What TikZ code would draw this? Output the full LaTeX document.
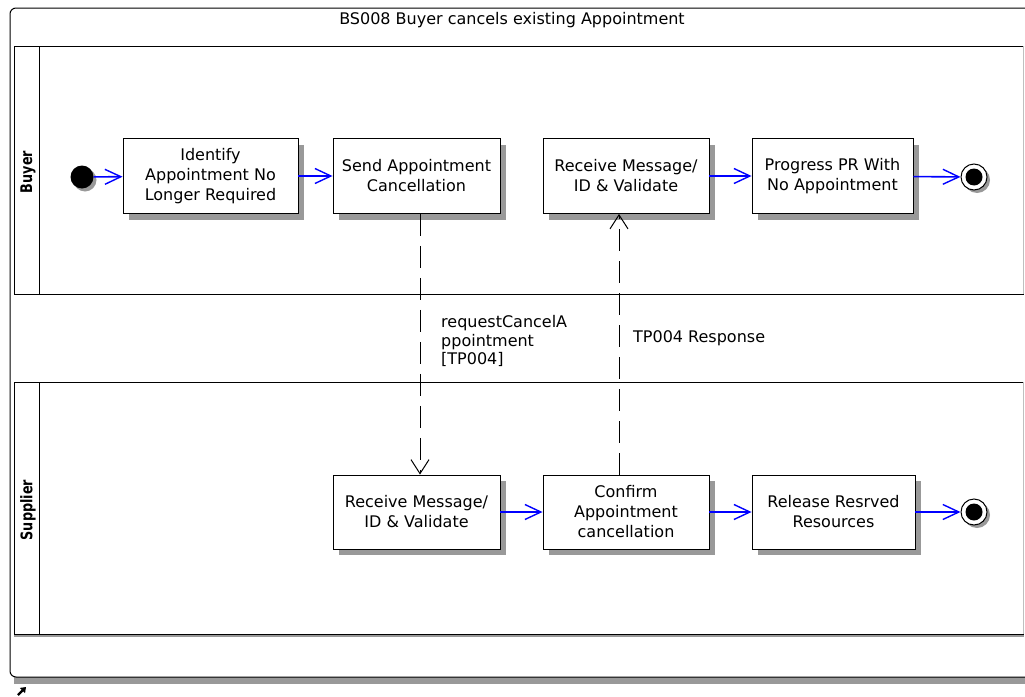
\documentclass[tikz,border=0pt]{standalone}
\usepackage{fontspec}
\setmainfont{DejaVu Sans}
\usetikzlibrary{arrows.meta,shadows}

\begin{document}
\begin{tikzpicture}[x=1pt,y=-1pt]
      \tikzstyle{activity}=[draw,fill=white,line width=0.9pt,minimum height=75pt,inner sep=2pt,align=center,
        font=\fontsize{16}{20}\selectfont,
        drop shadow={shadow xshift=6pt,shadow yshift=-6pt,fill=black!40,opacity=1}]
      \tikzstyle{initial}=[circle,fill=black,minimum size=23pt,inner sep=0pt,
        drop shadow={shadow xshift=3pt,shadow yshift=-3pt,fill=black!40,opacity=1}]
      \tikzstyle{final}=[circle,draw,fill=white,line width=1pt,minimum size=26pt,inner sep=0pt,
        drop shadow={shadow xshift=3pt,shadow yshift=-3pt,fill=black!40,opacity=1}]
      \tikzstyle{flow}=[draw=blue,line width=1.6pt,-{Straight Barb[length=16pt,width=15pt,line width=1.4pt]}]
      \tikzstyle{message}=[black,line width=1pt,dash pattern=on 22pt off 10pt,
        -{Straight Barb[length=14pt,width=18pt,line width=1pt]}]
      \tikzstyle{lanelabel}=[rotate=90,font=\fontsize{16}{18}\bfseries\selectfont]
      \tikzstyle{textfont}=[font=\fontsize{16}{18.5}\selectfont,inner sep=0pt]

      \useasboundingbox (0,0) rectangle (1025,696);
      \clip (0,0) rectangle (1025,696);

      % frame
      \fill[black!40] (14,677) rectangle (1030,684);
      \draw[line width=1pt,rounded corners=6pt] (1040,8) -- (10,8) -- (10,677) -- (1040,677);
      \node[textfont,anchor=base] (title) at (512,24) {BS008 Buyer cancels existing Appointment};
      \draw[line width=2.4pt,-{Triangle[length=5pt,width=7pt]}] (18,695) -- (26,687);

      % lanes
      \draw[line width=1pt] (1024,46) -- (14,46) -- (14,294) -- (1024,294);
      \draw[line width=1pt] (39,46) -- (39,294);
      \draw[black!25] (1023.5,46) -- (1023.5,294);
      \fill[black!40] (14,635) rectangle (1024,637);
      \draw[line width=1pt] (1024,382) -- (14,382) -- (14,634) -- (1024,634);
      \draw[line width=1pt] (39,382) -- (39,634);
      \draw[black!25] (1023.5,382) -- (1023.5,634);
      \node[lanelabel] (buyer) at (28,172) {\scalebox{0.8}[1]{Buyer}};
      \node[lanelabel] (supplier) at (28,510) {\scalebox{0.8}[1]{Supplier}};

      % buyer
      \node[initial] (start) at (82,177) {};
      \node[activity,minimum width=175pt] (identify) at (210.5,176) {Identify\\Appointment No\\Longer Required};
      \node[activity,minimum width=167pt] (send) at (416.5,176) {Send Appointment\\Cancellation};
      \node[activity,minimum width=166pt] (receive) at (626,176) {Receive Message/\\ID \& Validate};
      \node[activity,minimum width=161pt] (progress) at (832.5,176) {Progress PR With\\No Appointment};
      \node[final] (buyerend) at (974,177) {};
      \fill (buyerend) circle (8.5pt);

      % supplier
      \node[activity,minimum width=167pt,minimum height=74pt] (srecv) at (416.5,512) {Receive Message/\\ID \& Validate};
      \node[activity,minimum width=166pt,minimum height=74pt] (confirm) at (626,512) {Confirm\\Appointment\\cancellation};
      \node[activity,minimum width=163pt,minimum height=74pt] (release) at (833.5,512) {Release Resrved\\Resources};
      \node[final] (supplierend) at (974,512) {};
      \fill (supplierend) circle (8.5pt);

      \draw[flow] (start) -- (identify);
      \draw[flow] (identify) -- (send);
      \draw[flow] (receive) -- (progress);
      \draw[flow] (progress) -- (buyerend);
      \draw[flow] (srecv) -- (confirm);
      \draw[flow] (confirm) -- (release);
      \draw[flow] (release) -- (supplierend);

      \draw[message] ([xshift=3.5pt]send.south) -- ([xshift=3.5pt]srecv.north);
      \draw[message] ([xshift=-7pt]confirm.north) -- ([xshift=-7pt]receive.south);

      \node[textfont,anchor=north west,align=left] (request) at (441,315.5) {requestCancelA\\ppointment\\{[TP004]}};
      \node[textfont,anchor=base west] (response) at (633,342) {TP004 Response};
    \end{tikzpicture}
\end{document}
